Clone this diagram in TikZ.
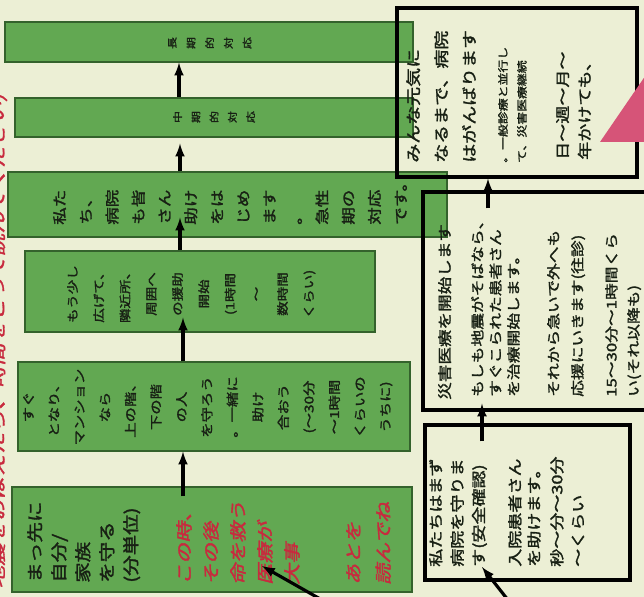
\documentclass[tikz,border=0pt]{standalone}
\usepackage{fontspec}
\usepackage{xcolor}
\usetikzlibrary{arrows,calc,fit}
\newfontfamily\jpb[FakeBold=1.6]{Noto Sans CJK JP}
\newfontfamily\jpsl[FakeSlant=0.2,FakeBold=1.8]{Noto Sans CJK JP}
\definecolor{paper}{RGB}{236,239,213}
\definecolor{leaf}{RGB}{98,168,82}
\definecolor{leafline}{RGB}{52,98,44}
\definecolor{ink}{RGB}{24,32,20}
\definecolor{redink}{RGB}{200,42,62}
\definecolor{pinkmark}{RGB}{214,84,120}

\begin{document}
\begin{tikzpicture}[x=0.03cm, y=-0.03cm,
	gbox/.style={draw=leafline, fill=leaf, line width=1.1pt, inner sep=0pt},
	kbox/.style={draw=black, line width=2.6pt, inner sep=0pt},
	vtxt/.style={rotate=90, yscale=0.8, inner sep=0pt, text=ink},
	arr/.style={-latex, line width=2.7pt}]
		% Paper:
		\useasboundingbox (0,0) rectangle (644,597);
		\clip (0,0) rectangle (644,597);
		\fill[paper] (0,0) rectangle (644,597);
		\node[vtxt, text=redink, font={\jpsl\fontsize{19}{19}\selectfont}] (note) at (-2,341) {地震をおぼえたら、時間をとって読んでください)};
		% Green steps:
		\node[gbox, fit={(12,487) (412,592)}] (b1) {};
		\node[gbox, fit={(18,362) (410,451)}] (b2) {};
		\node[gbox, fit={(25,251) (375,332)}] (b3) {};
		\node[gbox, fit={(8,172) (447,237)}] (b4) {};
		\node[gbox, fit={(15,98) (413,137)}] (b5) {};
		\node[gbox, fit={(5,22) (413,62)}] (b6) {};
		\node[vtxt, align=left, anchor=north west, font={\jpb\fontsize{17.5}{25.6}\selectfont}] (t1a) at (27,583) {まっ先に\\自分/\\家族\\を守る\\(分単位)};
		\node[vtxt, text=redink, align=left, anchor=north west, font={\jpsl\fontsize{17.9}{28.8}\selectfont}] (t1b) at (176,585) {この時、\\その後\\命を救う\\医療が\\大事};
		\node[vtxt, text=redink, align=left, anchor=north west, font={\jpsl\fontsize{17.9}{32}\selectfont}] (t1c) at (346,585) {あとを\\読んでね};
		\node[vtxt, align=center, anchor=north, font={\jpb\fontsize{13.1}{27.2}\selectfont}] (t2) at (23,407) {すぐ\\となり、\\マンション\\なら\\上の階、\\下の階\\の人\\を守ろう\\。一緒に\\助け\\合おう\\(〜30分\\〜1時間\\くらいの\\うちに)};
		\node[vtxt, align=center, anchor=north, font={\jpb\fontsize{12.4}{28}\selectfont}] (t3) at (67,294) {もう少し\\広げて、\\隣近所、\\周囲へ\\の援助\\開始\\(1時間\\〜\\数時間\\くらい)};
		\node[vtxt, align=left, anchor=north west, font={\jpb\fontsize{15}{28}\selectfont}] (t4) at (53,225) {私た\\ち、\\病院\\も皆\\さん\\助け\\をは\\じめ\\ます\\。\\急性\\期の\\対応\\です。};
		\node[vtxt, align=center, anchor=north, font={\jpb\fontsize{10.2}{19.5}\selectfont}] (t5) at (173,117) {中\\期\\的\\対\\応};
		\node[vtxt, align=center, anchor=north, font={\jpb\fontsize{10.2}{20}\selectfont}] (t6) at (168,43) {長\\期\\的\\対\\応};
		% Framed notes:
		\node[kbox, fit={(397,8) (637,177)}] (bA) {};
		\node[kbox, fit={(423,192) (660,410)}] (bB) {};
		\node[kbox, fit={(425,425) (630,580)}] (bC) {};
		\node[vtxt, align=left, anchor=north west, font={\jpb\fontsize{16.2}{29.9}\selectfont}] (tA1) at (406,163) {みんな元気に\\なるまで、病院\\はがんばります};
		\node[vtxt, align=left, anchor=north west, font={\jpb\fontsize{11}{20.2}\selectfont}] (tA2) at (498,163) {。一般診療と並行し\\て、災害医療継続};
		\node[vtxt, align=left, anchor=north west, font={\jpb\fontsize{15.4}{23.5}\selectfont}] (tA3) at (556,160) {日〜週〜月〜\\年かけても、};
		\node[vtxt, align=left, anchor=north west, font={\jpb\fontsize{15}{19}\selectfont}] (tB1) at (438,400) {災害医療を開始します};
		\node[vtxt, align=left, anchor=north west, font={\jpb\fontsize{14.3}{19.2}\selectfont}] (tB2) at (471,397) {もしも地震がそばなら、\\すぐこられた患者さん\\を治療開始します。};
		\node[vtxt, align=left, anchor=north west, font={\jpb\fontsize{14.3}{25.6}\selectfont}] (tB3) at (547,397) {それから急いで外へも\\応援にいきます(往診)};
		\node[vtxt, align=left, anchor=north west, font={\jpb\fontsize{14.3}{23.5}\selectfont}] (tB4) at (605,397) {15〜30分〜1時間くら\\い(それ以降も)};
		\node[vtxt, align=left, anchor=north west, font={\jpb\fontsize{15.4}{22.9}\selectfont}] (tC1) at (429,567) {私たちはまず\\病院を守りま\\す(安全確認)};
		\node[vtxt, align=left, anchor=north west, font={\jpb\fontsize{15.4}{20.4}\selectfont}] (tC2) at (508,567) {入院患者さん\\を助けます。};
		\node[vtxt, align=left, anchor=north west, font={\jpb\fontsize{15.4}{22.4}\selectfont}] (tC3) at (550,567) {秒〜分〜30分\\〜くらい};
		\fill[pinkmark] (600,142) -- (650,69) -- (650,142) -- cycle;
		% Arrows:
		\coordinate (k1) at (183,0);
		\coordinate (k2) at (180,0);
		\coordinate (k3) at (179,0);
		\coordinate (k4) at (482,0);
		\coordinate (k5) at (488,0);
		\coordinate (in1) at (322,600);
		\coordinate (in1tip) at (262,566);
		\coordinate (in2) at (508,600);
		\coordinate (in2tip) at (482,567);
		\draw[arr] ($(b1.north -| k1)+(0,10)$) -- (b2.south -| k1);
		\draw[arr] (b2.north -| k1) -- ($(b3.south -| k1)+(0,-15)$);
		\draw[arr] (b3.north -| k2) -- ($(b4.south -| k2)+(0,-20)$);
		\draw[arr] (b4.north -| k2) -- ($(b5.south -| k2)+(0,6)$);
		\draw[arr] (b5.north -| k3) -- (b6.south -| k3);
		\draw[arr] ($(bC.north -| k4)+(0,18)$) -- ($(bB.south -| k4)+(0,-8)$);
		\draw[arr] ($(bB.north -| k5)+(0,18)$) -- (bA.south -| k5);
		\draw[arr] (in1) -- (in1tip);
		\draw[arr] (in2) -- (in2tip);
	\end{tikzpicture}
\end{document}
